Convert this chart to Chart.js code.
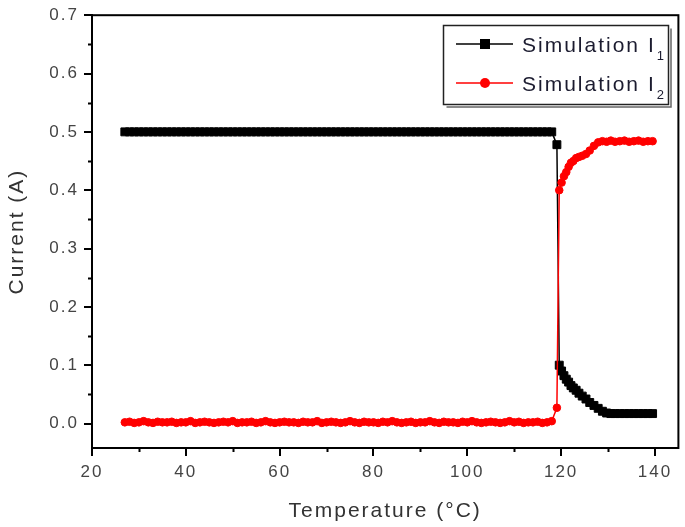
<!DOCTYPE html>
<html>
<head>
<meta charset="utf-8">
<script src="https://cdn.jsdelivr.net/npm/chart.js@4.4.0/dist/chart.umd.min.js"></script>
<style>
  html, body { margin: 0; padding: 0; background: #fff; }
</style>
</head>
<body>
<canvas id="chart" width="685" height="527"></canvas>
<script>
// ======================
// Data
// ======================
const temps = [
  27, 28, 29, 30, 31, 32, 33, 34, 35, 36,
  37, 38, 39, 40, 41, 42, 43, 44, 45, 46,
  47, 48, 49, 50, 51, 52, 53, 54, 55, 56,
  57, 58, 59, 60, 61, 62, 63, 64, 65, 66,
  67, 68, 69, 70, 71, 72, 73, 74, 75, 76,
  77, 78, 79, 80, 81, 82, 83, 84, 85, 86,
  87, 88, 89, 90, 91, 92, 93, 94, 95, 96,
  97, 98, 99, 100, 101, 102, 103, 104, 105, 106,
  107, 108, 109, 110, 111, 112, 113, 114, 115, 116,
  117, 118,
  119.1, 119.6, 120.1, 120.6, 121.1, 121.6, 122.1, 122.6, 123.2, 123.8,
  124.5, 125.3, 126.1, 127.0, 127.9, 128.8, 129.7, 130.6, 131.5, 132.5,
  133.5, 134.5, 135.5, 136.5, 137.5, 138.5, 139.5
];

const current1 = [
  0.5, 0.5, 0.5, 0.5, 0.5, 0.5, 0.5, 0.5, 0.5, 0.5,
  0.5, 0.5, 0.5, 0.5, 0.5, 0.5, 0.5, 0.5, 0.5, 0.5,
  0.5, 0.5, 0.5, 0.5, 0.5, 0.5, 0.5, 0.5, 0.5, 0.5,
  0.5, 0.5, 0.5, 0.5, 0.5, 0.5, 0.5, 0.5, 0.5, 0.5,
  0.5, 0.5, 0.5, 0.5, 0.5, 0.5, 0.5, 0.5, 0.5, 0.5,
  0.5, 0.5, 0.5, 0.5, 0.5, 0.5, 0.5, 0.5, 0.5, 0.5,
  0.5, 0.5, 0.5, 0.5, 0.5, 0.5, 0.5, 0.5, 0.5, 0.5,
  0.5, 0.5, 0.5, 0.5, 0.5, 0.5, 0.5, 0.5, 0.5, 0.5,
  0.5, 0.5, 0.5, 0.5, 0.5, 0.5, 0.5, 0.5, 0.5, 0.5,
  0.5, 0.5,
  0.478, 0.100, 0.090, 0.082, 0.076, 0.071, 0.065, 0.061, 0.057, 0.052,
  0.047, 0.042, 0.036, 0.031, 0.026, 0.021, 0.018, 0.017, 0.017, 0.017,
  0.017, 0.017, 0.017, 0.017, 0.017, 0.017, 0.017
];

const current2 = [
  0.002, 0.003, 0.001, 0.002, 0.004, 0.002, 0.001, 0.003, 0.002, 0.002,
  0.003, 0.001, 0.002, 0.002, 0.004, 0.001, 0.002, 0.003, 0.002, 0.001,
  0.002, 0.003, 0.002, 0.004, 0.001, 0.002, 0.002, 0.003, 0.001, 0.002,
  0.004, 0.002, 0.001, 0.002, 0.003, 0.002, 0.002, 0.001, 0.003, 0.002,
  0.002, 0.004, 0.001, 0.002, 0.003, 0.002, 0.001, 0.002, 0.004, 0.002,
  0.001, 0.003, 0.002, 0.002, 0.001, 0.003, 0.002, 0.004, 0.002, 0.001,
  0.002, 0.003, 0.001, 0.002, 0.002, 0.004, 0.002, 0.001, 0.003, 0.002,
  0.002, 0.001, 0.003, 0.002, 0.004, 0.002, 0.001, 0.002, 0.003, 0.002,
  0.001, 0.002, 0.004, 0.002, 0.003, 0.001, 0.002, 0.002, 0.003, 0.001,
  0.002, 0.004,
  0.027, 0.400, 0.413, 0.424, 0.431, 0.440, 0.447, 0.450, 0.455, 0.457,
  0.459, 0.462, 0.468, 0.476, 0.482, 0.484, 0.483, 0.485, 0.483, 0.484,
  0.485, 0.483, 0.484, 0.485, 0.483, 0.484, 0.484
];

const seriesNames = ["Simulation I", "Simulation I"];
const seriesSubs = ["1", "2"];
const seriesColors = ["#000000", "#ff0000"];

const xMinor = [30, 50, 70, 90, 110, 130];
const yMinor = [0.05, 0.15, 0.25, 0.35, 0.45, 0.55, 0.65];

const xTitle = "Temperature (\u00B0C)";
const yTitle = "Current (A)";

const FONT = '"Liberation Sans", Arial, sans-serif';

// ======================
// Frame, minor ticks, titles and legend
// ======================
const extras = {
  id: "extras",
  beforeDraw(chart) {
    chart.ctx.letterSpacing = "2px";
  },
  afterDraw(chart) {
    const { ctx, chartArea: a, scales } = chart;
    ctx.save();

    // box round the plot
    ctx.strokeStyle = "#000";
    ctx.lineWidth = 2;
    ctx.strokeRect(a.left, a.top, a.right - a.left, a.bottom - a.top);

    // minor ticks (outside)
    ctx.lineWidth = 2;
    ctx.beginPath();
    yMinor.forEach((v) => {
      const y = Math.round(scales.y.getPixelForValue(v)) + 0.5;
      ctx.moveTo(a.left - 4, y);
      ctx.lineTo(a.left, y);
    });
    xMinor.forEach((v) => {
      const x = Math.round(scales.x.getPixelForValue(v)) + 0.5;
      ctx.moveTo(x, a.bottom);
      ctx.lineTo(x, a.bottom + 4);
    });
    ctx.stroke();

    // axis titles
    ctx.letterSpacing = "2px";
    ctx.fillStyle = "#333";
    ctx.font = "21px " + FONT;
    ctx.textAlign = "center";
    ctx.textBaseline = "middle";
    ctx.fillText(xTitle, (a.left + a.right) / 2, 511);
    ctx.save();
    ctx.translate(17, (a.top + a.bottom) / 2);
    ctx.rotate(-Math.PI / 2);
    ctx.fillText(yTitle, 0, 0);
    ctx.restore();

    // legend box
    const bx = 443.5, by = 25.5, bw = 225, bh = 79;
    ctx.fillStyle = "#fff";
    ctx.fillRect(bx, by, bw, bh);
    ctx.strokeStyle = "#666";
    ctx.lineWidth = 1.5;
    ctx.beginPath();
    ctx.moveTo(bx + bw + 2.5, by + 3);
    ctx.lineTo(bx + bw + 2.5, by + bh + 2.5);
    ctx.lineTo(bx + 3, by + bh + 2.5);
    ctx.stroke();
    ctx.strokeStyle = "#222";
    ctx.strokeRect(bx, by, bw, bh);

    const rows = [44, 83];
    rows.forEach((yy, i) => {
      ctx.strokeStyle = seriesColors[i];
      ctx.fillStyle = seriesColors[i];
      ctx.lineWidth = 1.5;
      ctx.beginPath();
      ctx.moveTo(456, yy);
      ctx.lineTo(513, yy);
      ctx.stroke();
      if (i === 0) {
        ctx.fillRect(480, yy - 5, 10, 10);
      } else {
        ctx.beginPath();
        ctx.arc(485, yy, 5, 0, Math.PI * 2);
        ctx.fill();
      }
      ctx.fillStyle = "#1b1b2f";
      ctx.textAlign = "left";
      ctx.textBaseline = "alphabetic";
      ctx.font = "21px " + FONT;
      ctx.fillText(seriesNames[i], 522, yy + 8);
      const w = ctx.measureText(seriesNames[i]).width;
      ctx.font = "13px " + FONT;
      ctx.fillText(seriesSubs[i], 522 + w + 1, yy + 16);
    });

    ctx.restore();
  },
};

const toPoints = (ys) => temps.map((t, i) => ({ x: t, y: ys[i] }));

const tickFont = { family: FONT, size: 17 };

new Chart(document.getElementById("chart").getContext("2d"), {
  type: "scatter",
  data: {
    datasets: [
      {
        label: "Simulation I1",
        data: toPoints(current1),
        showLine: true,
        borderColor: seriesColors[0],
        backgroundColor: seriesColors[0],
        borderWidth: 1.5,
        pointStyle: "rect",
        pointRadius: 5.6,
        pointBorderWidth: 1,
        order: 2,
      },
      {
        label: "Simulation I2",
        data: toPoints(current2),
        showLine: true,
        borderColor: seriesColors[1],
        backgroundColor: seriesColors[1],
        borderWidth: 1.5,
        pointStyle: "circle",
        pointRadius: 3.8,
        pointBorderWidth: 1,
        order: 1,
      },
    ],
  },
  options: {
    responsive: false,
    animation: false,
    events: [],
    layout: { padding: { left: 0, right: 5, top: 15, bottom: 0 } },
    plugins: {
      legend: { display: false },
      tooltip: { enabled: false },
    },
    scales: {
      x: {
        type: "linear",
        min: 20,
        max: 145,
        afterFit: (s) => { s.height = 79; },
        ticks: {
          stepSize: 20,
          includeBounds: false,
          padding: 6,
          color: "#444",
          font: tickFont,
        },
        grid: {
          drawOnChartArea: false,
          drawTicks: true,
          tickLength: 8,
          color: "#000",
          lineWidth: 2,
        },
        border: { color: "#000", width: 2 },
      },
      y: {
        min: -0.042,
        max: 0.7,
        afterFit: (s) => { s.width = 92; },
        ticks: {
          stepSize: 0.1,
          includeBounds: false,
          padding: 5,
          color: "#444",
          font: tickFont,
          callback: (v) => v.toFixed(1),
        },
        grid: {
          drawOnChartArea: false,
          drawTicks: true,
          tickLength: 8,
          color: "#000",
          lineWidth: 2,
        },
        border: { color: "#000", width: 2 },
      },
    },
  },
  plugins: [extras],
});
</script>
</body>
</html>
